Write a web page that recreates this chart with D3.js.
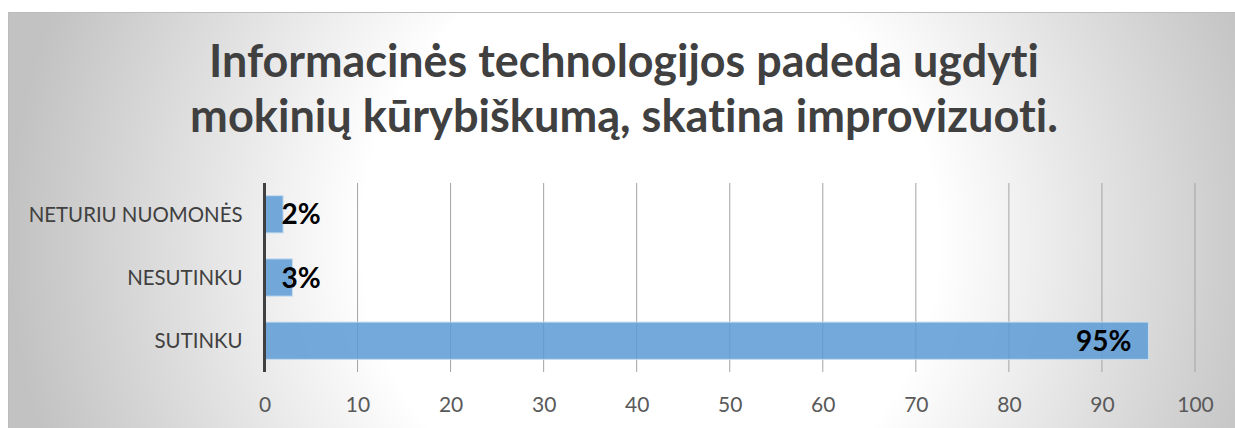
<!DOCTYPE html>
<html lang="lt">
<head>
    <meta charset="UTF-8">
    <script src="https://d3js.org/d3.v7.min.js"></script>
    <title>Informacinės technologijos</title>
    <style>
        body { margin: 0; background: #fff; }
        text { font-family: Lato, "Open Sans", sans-serif; font-variant-ligatures: none; font-feature-settings: "liga" 0, "dlig" 0; }
    </style>
</head>
<body>
<script>
    // Data
    const categories = ["NETURIU NUOMONĖS", "NESUTINKU", "SUTINKU"];
    const values = [2, 3, 95];
    const valueLabels = ["2%", "3%", "95%"];
    const xTicks = [0, 10, 20, 30, 40, 50, 60, 70, 80, 90, 100];
    const titleLines = ["Informacinės technologijos padeda ugdyti",
        "mokinių kūrybiškumą, skatina improvizuoti."];

    const W = 1235, H = 428;
    const plot = {left: 264.5, right: 1195, top: 183, bottom: 372};

    const svg = d3.select("body").append("svg")
        .attr("width", W)
        .attr("height", H);

    // Background gradient
    const grad = svg.append("defs").append("radialGradient")
        .attr("id", "bg")
        .attr("gradientUnits", "userSpaceOnUse")
        .attr("cx", 650).attr("cy", 240).attr("r", 640);
    grad.append("stop").attr("offset", "0.45").attr("stop-color", "#ffffff");
    grad.append("stop").attr("offset", "1").attr("stop-color", "#c2c2c2");

    svg.append("rect")
        .attr("x", 8.5).attr("y", 12.5)
        .attr("width", W).attr("height", H)
        .attr("fill", "url(#bg)")
        .attr("stroke", "#bdbdbd");

    // fit text width helper
    const fit = (sel, size, target) => {
        sel.style("font-size", size + "px");
        const w = sel.node().getComputedTextLength();
        const s = size * target / w;
        sel.style("font-size", s + "px");
        return s;
    };

    // Title
    const titleWidths = [830, 868];
    const titleBase = [77, 132];
    titleLines.forEach((t, i) => {
        const el = svg.append("text")
            .attr("x", 624)
            .attr("y", titleBase[i])
            .attr("text-anchor", "middle")
            .attr("fill", "#404040")
            .attr("font-weight", "bold")
            .text(t);
        fit(el, 40, titleWidths[i]);
    });

    // Scales
    const x = d3.scaleLinear()
        .domain([0, 100])
        .range([plot.left, plot.right]);
    const y = d3.scaleBand()
        .domain(categories)
        .range([plot.top, plot.bottom])
        .paddingInner(0.41)
        .paddingOuter(0.2);

    // Gridlines
    svg.append("g")
        .selectAll("line")
        .data(xTicks.slice(1))
        .enter().append("line")
        .attr("x1", d => x(d)).attr("x2", d => x(d))
        .attr("y1", plot.top).attr("y2", plot.bottom)
        .attr("stroke", "#a3a3a3")
        .attr("stroke-width", 1);

    // Bars
    svg.selectAll(".bar")
        .data(values)
        .enter().append("rect")
        .attr("class", "bar")
        .attr("x", x(0))
        .attr("y", (d, i) => y(categories[i]))
        .attr("width", d => x(d) - x(0))
        .attr("height", y.bandwidth())
        .attr("fill", "#5b9bd5")
        .attr("fill-opacity", 0.85)
        .attr("stroke", "#c9ddf0")
        .attr("stroke-width", 1);

    // Value axis line (at 0)
    svg.append("line")
        .attr("x1", x(0)).attr("x2", x(0))
        .attr("y1", plot.top).attr("y2", plot.bottom)
        .attr("stroke", "#404040")
        .attr("stroke-width", 3);

    // Tick labels
    const xAxis = svg.append("g")
        .attr("transform", "translate(0," + plot.bottom + ")")
        .call(d3.axisBottom(x).tickValues(xTicks).tickSize(0).tickPadding(30));
    xAxis.select(".domain").remove();
    xAxis.selectAll("text")
        .attr("dy", "0")
        .attr("y", 39.5)
        .attr("fill", "#595959")
        .style("font-family", "Lato, 'Open Sans', sans-serif")
        .style("font-size", "21px");

    // Category labels
    const catLabels = svg.append("g")
        .selectAll("text")
        .data(categories)
        .enter().append("text")
        .attr("x", x(0) - 22)
        .attr("y", d => y(d) + y.bandwidth() / 2)
        .attr("dy", "0.36em")
        .attr("text-anchor", "end")
        .attr("fill", "#404040")
        .text(d => d);
    const catSize = fit(catLabels.filter((d, i) => i === 0), 20, 214);
    catLabels.style("font-size", catSize + "px");

    // Value labels: small bars inside base, large bar inside end
    svg.append("g")
        .selectAll("text")
        .data(values)
        .enter().append("text")
        .attr("x", d => d > 50 ? x(d) - 17 : x(0) + 17)
        .attr("y", (d, i) => y(categories[i]) + y.bandwidth() / 2)
        .attr("dy", "0.36em")
        .attr("text-anchor", d => d > 50 ? "end" : "start")
        .attr("fill", "#000")
        .attr("font-weight", "bold")
        .style("font-size", "28px")
        .text((d, i) => valueLabels[i]);
</script>
</body>
</html>
